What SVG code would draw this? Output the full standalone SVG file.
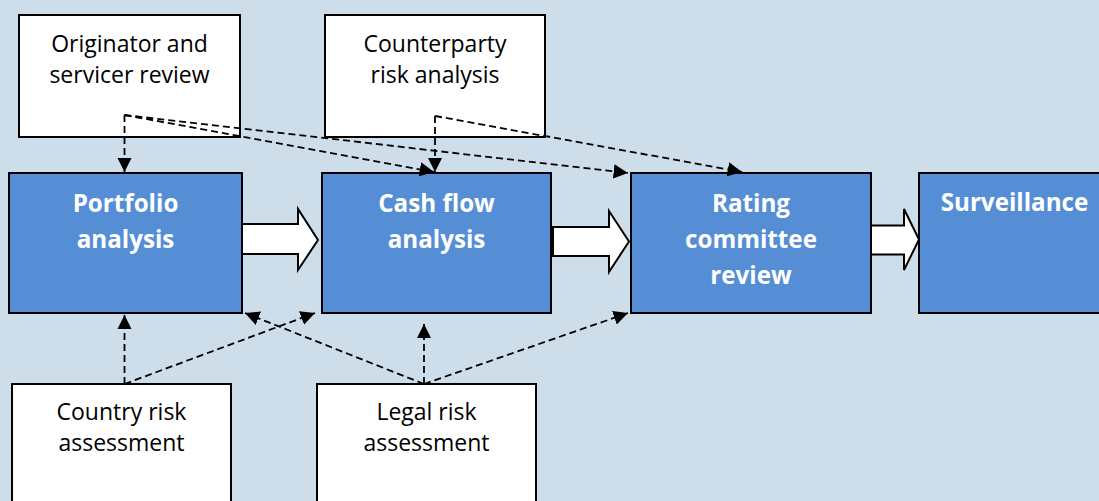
<svg xmlns="http://www.w3.org/2000/svg" width="1099" height="501" viewBox="0 0 1099 501">
<defs>
<style>
.wbox{fill:#FFFFFF;stroke:#000;stroke-width:2}
.bbox{fill:#558ED5;stroke:#000;stroke-width:2}
.wt{font-family:"Open Sans","Liberation Sans",sans-serif;font-size:23px;fill:#000;text-anchor:middle}
.bt{font-family:"Open Sans","Liberation Sans",sans-serif;font-size:24.2px;font-weight:bold;fill:#FFFFFF;text-anchor:middle}
.dash{fill:none;stroke:#000;stroke-width:1.8;stroke-dasharray:7 4}
.block{fill:#FFFFFF;stroke:#000;stroke-width:2;stroke-linejoin:miter}
</style>
<marker id="ah" viewBox="0 0 10 10" refX="10" refY="5" markerWidth="8" markerHeight="8" markerUnits="strokeWidth" orient="auto">
<path d="M0,0 L10,5 L0,10 z" fill="#000"/>
</marker>
</defs>
<rect x="0" y="0" width="1099" height="501" fill="#CDDDEA"/>

<g id="originator">
<rect class="wbox" x="19" y="15" width="221" height="122"/>
<text class="wt" x="129.5" y="52">Originator and</text>
<text class="wt" x="129.5" y="83">servicer review</text>
</g>
<g id="counterparty">
<rect class="wbox" x="325" y="15" width="220" height="122"/>
<text class="wt" x="435" y="52">Counterparty</text>
<text class="wt" x="435" y="83">risk analysis</text>
</g>
<g id="portfolio">
<rect class="bbox" x="9" y="173" width="233" height="140"/>
<text class="bt" x="125.5" y="212">Portfolio</text>
<text class="bt" x="125.5" y="248">analysis</text>
</g>
<g id="cashflow">
<rect class="bbox" x="322" y="173" width="229" height="140"/>
<text class="bt" x="436.5" y="212">Cash flow</text>
<text class="bt" x="436.5" y="248">analysis</text>
</g>
<g id="rating">
<rect class="bbox" x="631" y="173" width="240" height="140"/>
<text class="bt" x="751" y="212">Rating</text>
<text class="bt" x="751" y="248">committee</text>
<text class="bt" x="751" y="284">review</text>
</g>
<g id="surveillance">
<rect class="bbox" x="919" y="173" width="192" height="140"/>
<text class="bt" x="1014.5" y="211">Surveillance</text>
</g>
<g id="country">
<rect class="wbox" x="12" y="384" width="219" height="130"/>
<text class="wt" x="121.5" y="420">Country risk</text>
<text class="wt" x="121.5" y="451">assessment</text>
</g>
<g id="legal">
<rect class="wbox" x="317" y="384" width="219" height="130"/>
<text class="wt" x="426.5" y="420">Legal risk</text>
<text class="wt" x="426.5" y="451">assessment</text>
</g>

<g id="connectors">
<path class="block" d="M242,224 L298,224 L298,209 L318,240 L298,270 L298,254 L242,254 Z"/>
<path class="block" d="M553,227 L609,227 L609,211 L629,241.5 L609,272 L609,256 L553,256 Z"/>
<path class="block" d="M871,225.5 L904,225.5 L904,209 L919,239.5 L904,270 L904,254.5 L871,254.5 Z"/>

<path class="dash" d="M124.5,115 L124.5,172" marker-end="url(#ah)"/>
<path class="dash" d="M124.5,115 L434,172" marker-end="url(#ah)"/>
<path class="dash" d="M124.5,115 L628,173" marker-end="url(#ah)"/>
<path class="dash" d="M435,116 L435,172" marker-end="url(#ah)"/>
<path class="dash" d="M435,116 L742,172" marker-end="url(#ah)"/>

<path class="dash" d="M124.5,384 L124.5,315" marker-end="url(#ah)"/>
<path class="dash" d="M124.5,384 L315,313" marker-end="url(#ah)"/>
<path class="dash" d="M424,384 L424,324" marker-end="url(#ah)"/>
<path class="dash" d="M424,384 L245,313" marker-end="url(#ah)"/>
<path class="dash" d="M424,384 L628,313" marker-end="url(#ah)"/>
</g>
</svg>
